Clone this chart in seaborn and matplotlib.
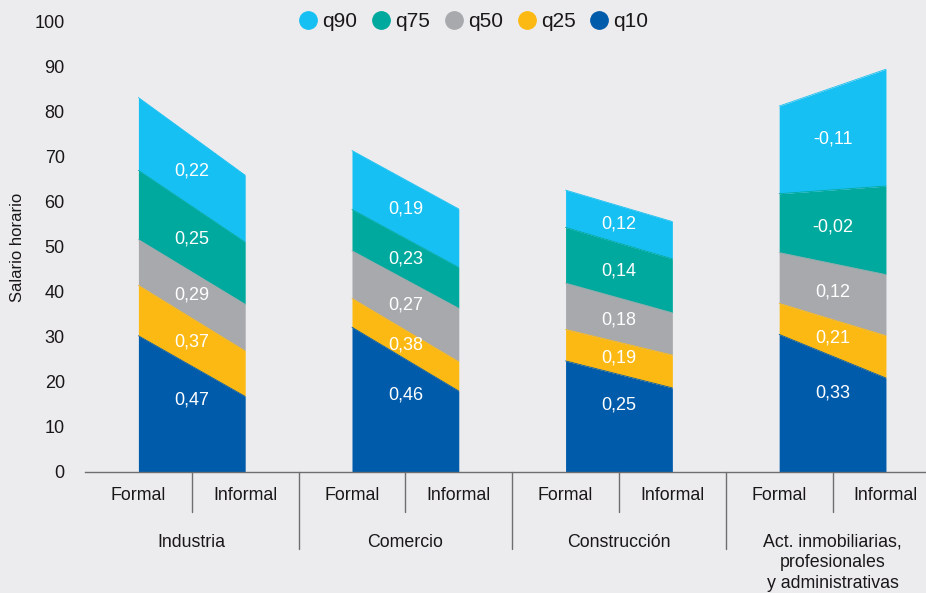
import pandas as pd
import matplotlib.pyplot as plt
import seaborn as sns
from matplotlib.lines import Line2D

# ---------------------------
# DATA
# ---------------------------
sectors = ["Industria", "Comercio", "Construcción",
           "Act. inmobiliarias,\nprofesionales\ny administrativas"]
groups = ["Formal", "Informal"]
quantiles = ["q10", "q25", "q50", "q75", "q90"]

q10_formal = [30.2, 32.1, 24.6, 30.5]
q10_informal = [16.7, 17.9, 18.6, 20.8]
q25_formal = [41.4, 38.5, 31.6, 37.4]
q25_informal = [26.8, 24.4, 25.9, 30.2]
q50_formal = [51.6, 49.1, 41.9, 48.7]
q50_informal = [37.2, 36.3, 35.3, 43.8]
q75_formal = [67.0, 58.3, 54.3, 61.8]
q75_informal = [51.0, 45.4, 47.3, 63.5]
q90_formal = [83.2, 71.4, 62.6, 81.3]
q90_informal = [65.9, 58.4, 55.6, 89.5]

gap_q10 = [0.47, 0.46, 0.25, 0.33]
gap_q25 = [0.37, 0.38, 0.19, 0.21]
gap_q50 = [0.29, 0.27, 0.18, 0.12]
gap_q75 = [0.25, 0.23, 0.14, -0.02]
gap_q90 = [0.22, 0.19, 0.12, -0.11]

colors = {"q10": "#005BAA", "q25": "#FDB913", "q50": "#A7A9AC",
          "q75": "#00A99D", "q90": "#17C0F2"}

formal = {"q10": q10_formal, "q25": q25_formal, "q50": q50_formal,
          "q75": q75_formal, "q90": q90_formal}
informal = {"q10": q10_informal, "q25": q25_informal, "q50": q50_informal,
            "q75": q75_informal, "q90": q90_informal}
gaps = {"q10": gap_q10, "q25": gap_q25, "q50": gap_q50,
        "q75": gap_q75, "q90": gap_q90}

# long table for seaborn
rows = []
for i, s in enumerate(sectors):
    for q in quantiles:
        rows.append({"sector": s, "quantile": q, "x": 2 * i, "wage": formal[q][i]})
        rows.append({"sector": s, "quantile": q, "x": 2 * i + 1, "wage": informal[q][i]})
df = pd.DataFrame(rows)

# ---------------------------
# STYLE
# ---------------------------
bg = "#ECECEE"
txt = "#1A1718"
sns.set_theme(style="white", rc={"axes.facecolor": bg, "figure.facecolor": bg})
plt.rcParams["font.family"] = ["Liberation Sans", "DejaVu Sans"]

fig = plt.figure(figsize=(9.26, 5.93), dpi=100)
ax = fig.add_axes([85 / 926, (593 - 471.5) / 593, 841 / 926, 449.5 / 593])

# ---------------------------
# BANDS
# ---------------------------
for i in range(len(sectors)):
    xs = [2 * i, 2 * i + 1]
    lo = [0, 0]
    for q in quantiles:
        hi = [formal[q][i], informal[q][i]]
        ax.fill_between(xs, lo, hi, color=colors[q], linewidth=0)
        lo_c = (lo[0] + lo[1]) / 2
        hi_c = (hi[0] + hi[1]) / 2
        if q == "q10":
            ymid = hi_c * 0.68
        else:
            ymid = (lo_c + hi_c) / 2
        ax.text(2 * i + 0.5, ymid, f"{gaps[q][i]:.2f}".replace(".", ","),
                ha="center", va="center", color="white", fontsize=13)
        lo = hi

sns.lineplot(data=df, x="x", y="wage", hue="quantile", units="sector",
             estimator=None, palette=colors, linewidth=0.6, legend=False, ax=ax)

# ---------------------------
# AXES
# ---------------------------
ax.set_xlim(-0.5, 7.375)
ax.set_ylim(0, 100)
ax.set_yticks(range(0, 101, 10))
ax.tick_params(axis="y", length=0, pad=14.5, labelsize=13, labelcolor=txt)
ax.set_xticks([])
ax.set_xlabel("")
ax.set_ylabel("")
for side in ["top", "right", "left"]:
    ax.spines[side].set_visible(False)
ax.spines["bottom"].set_color("#6D6E71")
ax.spines["bottom"].set_linewidth(1)

trans = ax.get_xaxis_transform()
for i, s in enumerate(sectors):
    for j, g in enumerate(groups):
        ax.text(2 * i + j, -0.0545, g, transform=trans, ha="center", va="center",
                fontsize=12.8, color=txt)
    ax.text(2 * i + 0.5, -0.139, s, transform=trans, ha="center", va="top",
            fontsize=12.8, color=txt, linespacing=1.27)
    ax.plot([2 * i + 0.5] * 2, [0, -0.09], transform=trans, color="#6D6E71",
            lw=1, clip_on=False)
for k in [1.5, 3.5, 5.5]:
    ax.plot([k, k], [0, -0.172], transform=trans, color="#6D6E71", lw=1, clip_on=False)

fig.text(18 / 926, 0.583, "Salario horario", rotation=90, ha="center", va="center",
         fontsize=12, color=txt)

# ---------------------------
# LEGEND
# ---------------------------
handles = [Line2D([], [], marker="o", ls="", markersize=12.5, color=colors[q])
           for q in quantiles[::-1]]
fig.legend(handles, quantiles[::-1], loc="center", bbox_to_anchor=(0.512, 0.963),
           ncol=5, frameon=False, fontsize=15, handlelength=0.8, handletextpad=0.27,
           columnspacing=0.75, labelcolor=txt)

plt.savefig("out.png", dpi=100, facecolor=bg)
